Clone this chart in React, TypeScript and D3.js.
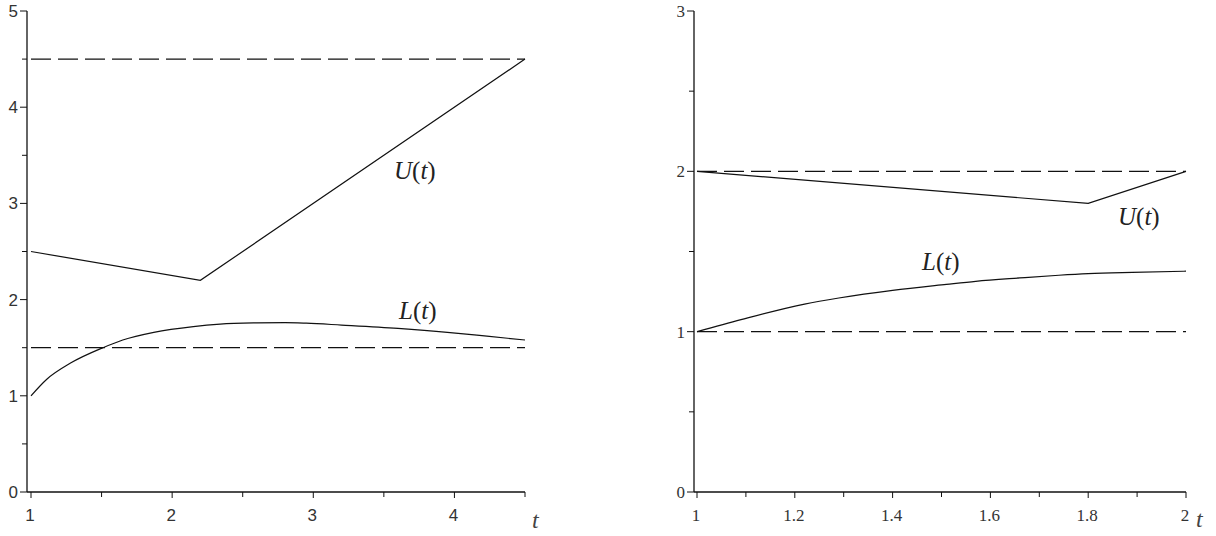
import React, { useEffect } from 'react';
import * as d3 from 'd3';

// left plot: t in [1, 4.5]
const LEFT_X_MAJOR = [1, 2, 3, 4];
const LEFT_X_MINOR = [1.5, 2.5, 3.5, 4.5];
const LEFT_Y_MAJOR = [0, 1, 2, 3, 4, 5];
const LEFT_Y_MINOR = [0.5, 1.5, 2.5, 3.5, 4.5];
const LEFT_BOUNDS = [4.5, 1.5];
const LEFT_U = [[1, 2.5], [2.2, 2.2], [4.5, 4.5]];
const LEFT_L = [
  [1.0, 1.0], [1.11, 1.17], [1.28, 1.34], [1.51, 1.5], [1.65, 1.58], [1.87, 1.66],
  [2.15, 1.72], [2.34, 1.745], [2.6, 1.758], [2.8, 1.761], [2.95, 1.755], [3.2, 1.735],
  [3.6, 1.7], [3.95, 1.66], [4.23, 1.62], [4.5, 1.58],
];

// right plot: t in [1, 2]
const RIGHT_X_MAJOR = [1, 1.2, 1.4, 1.6, 1.8, 2];
const RIGHT_X_MINOR = [1.1, 1.3, 1.5, 1.7, 1.9];
const RIGHT_Y_MAJOR = [0, 1, 2, 3];
const RIGHT_Y_MINOR = [0.5, 1.5, 2.5];
const RIGHT_BOUNDS = [2, 1];
const RIGHT_U = [[1, 2], [1.8, 1.8], [2, 2]];
const RIGHT_L = [
  [1.0, 1.0], [1.09, 1.075], [1.22, 1.172], [1.29, 1.21], [1.4, 1.258], [1.51, 1.295],
  [1.57, 1.314], [1.66, 1.335], [1.74, 1.352], [1.8, 1.362], [1.89, 1.37], [2.0, 1.377],
];

function Label({ x, y, name }) {
  // U(t) / L(t) in math style: italic letter, upright parens
  return (
    <text x={x} y={y} fontFamily="'Liberation Serif', 'DejaVu Serif', serif" fontSize={25} fill="#222">
      <tspan fontStyle="italic">{name}</tspan>
      <tspan>(</tspan>
      <tspan fontStyle="italic">t</tspan>
      <tspan>)</tspan>
    </text>
  );
}

function Panel({ xDomain, xRange, yDomain, axisX, xMajor, xMinor, yMajor, yMinor, bounds, U, L, uLabel, lLabel, tLabel, tickFont, fmt }) {
  const x = d3.scaleLinear().domain(xDomain).range(xRange);
  const y = d3.scaleLinear().domain(yDomain).range([492, 11]);
  const y0 = y(0);
  const straight = d3.line().x(d => x(d[0])).y(d => y(d[1]));
  const smooth = d3.line().x(d => x(d[0])).y(d => y(d[1])).curve(d3.curveMonotoneX);
  const stroke = '#111';

  return (
    <g>
      {/* axes */}
      <line x1={axisX} x2={axisX} y1={y(yDomain[1])} y2={y0} stroke={stroke} strokeWidth={1.3} />
      <line x1={axisX} x2={xRange[1]} y1={y0} y2={y0} stroke={stroke} strokeWidth={1.3} />

      {yMajor.map(v => (
        <g key={'ym' + v}>
          <line x1={axisX - 7} x2={axisX} y1={y(v)} y2={y(v)} stroke={stroke} />
          <text x={axisX - 9} y={y(v) + 6} textAnchor="end" fontFamily={tickFont} fontSize={17} fill="#333">{v}</text>
        </g>
      ))}
      {yMinor.map(v => (
        <line key={'yn' + v} x1={axisX - 5} x2={axisX} y1={y(v)} y2={y(v)} stroke={stroke} />
      ))}
      {xMajor.map(v => (
        <g key={'xm' + v}>
          <line x1={x(v)} x2={x(v)} y1={y0} y2={y0 + 6} stroke={stroke} />
          <text x={x(v) - 1} y={y0 + 29} textAnchor="middle" fontFamily={tickFont} fontSize={17} fill="#333">{fmt(v)}</text>
        </g>
      ))}
      {xMinor.map(v => (
        <line key={'xn' + v} x1={x(v)} x2={x(v)} y1={y0} y2={y0 + 5} stroke={stroke} />
      ))}

      {/* bounds */}
      {bounds.map(b => (
        <line key={'b' + b} x1={x(xDomain[0])} x2={x(xDomain[1])} y1={y(b)} y2={y(b)}
          stroke={stroke} strokeWidth={1.3} strokeDasharray="20,7" />
      ))}

      <path d={straight(U)} fill="none" stroke={stroke} strokeWidth={1.2} />
      <path d={smooth(L)} fill="none" stroke={stroke} strokeWidth={1.2} />

      <Label x={uLabel[0]} y={uLabel[1]} name="U" />
      <Label x={lLabel[0]} y={lLabel[1]} name="L" />
      <text x={tLabel[0]} y={tLabel[1]} fontFamily="'Liberation Serif', serif" fontStyle="italic" fontSize={24} fill="#444">t</text>
    </g>
  );
}

export default function App() {
  useEffect(() => {
    document.body.style.margin = '0';
  }, []);

  return (
    <svg width={1216} height={536} style={{ display: 'block', background: '#fff' }}>
      <Panel
        xDomain={[1, 4.5]} xRange={[31, 525]} yDomain={[0, 5]} axisX={27}
        xMajor={LEFT_X_MAJOR} xMinor={LEFT_X_MINOR} yMajor={LEFT_Y_MAJOR} yMinor={LEFT_Y_MINOR}
        bounds={LEFT_BOUNDS} U={LEFT_U} L={LEFT_L}
        uLabel={[394, 179]} lLabel={[399, 319]} tLabel={[532, 528]}
        tickFont="'Liberation Sans', 'DejaVu Sans', sans-serif" fmt={d3.format('d')}
      />
      <Panel
        xDomain={[1, 2]} xRange={[697, 1186]} yDomain={[0, 3]} axisX={694}
        xMajor={RIGHT_X_MAJOR} xMinor={RIGHT_X_MINOR} yMajor={RIGHT_Y_MAJOR} yMinor={RIGHT_Y_MINOR}
        bounds={RIGHT_BOUNDS} U={RIGHT_U} L={RIGHT_L}
        uLabel={[1118, 225]} lLabel={[922, 270]} tLabel={[1196, 527]}
        tickFont="'Liberation Serif', 'DejaVu Serif', serif" fmt={v => (v % 1 === 0 ? String(v) : v.toFixed(1))}
      />
    </svg>
  );
}
